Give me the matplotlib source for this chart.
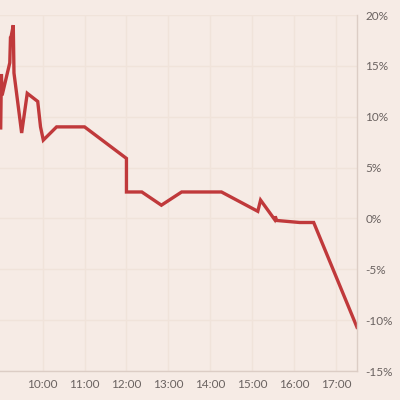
import matplotlib
matplotlib.use("Agg")
import matplotlib.pyplot as plt
import matplotlib.dates as mdates
import pandas as pd

# intraday change, %
times = ["09:00", "09:01", "09:02", "09:13", "09:14", "09:15", "09:18", "09:19",
         "09:30", "09:38", "09:53", "09:57", "10:01", "10:20", "11:00", "12:00",
         "12:00", "12:22", "12:50", "13:19", "14:16", "15:08", "15:12", "15:32",
         "15:33", "15:35", "16:08", "16:28", "17:30"]
change = [8.9, 14.2, 12.1, 15.3, 17.8, 17.9, 19.0, 14.3,
          8.4, 12.3, 11.5, 9.0, 7.7, 9.0, 9.0, 5.9,
          2.6, 2.6, 1.3, 2.6, 2.6, 0.7, 1.8, -0.1,
          0.2, -0.2, -0.4, -0.4, -10.7]

yticks = [-15, -10, -5, 0, 5, 10, 15, 20]
xticks = ["10:00", "11:00", "12:00", "13:00", "14:00", "15:00", "16:00", "17:00"]

bg = "#f6ebe5"
line_color = "#c0393b"
grid_color = "#f0e3da"
text_color = "#6a6260"

day = "2024-01-02 "
t = pd.to_datetime([day + s for s in times])

fig = plt.figure(figsize=(4, 4), dpi=100, facecolor=bg)
ax = fig.add_axes([0.0, 0.0725, 0.8925, 0.89])
ax.set_facecolor(bg)

ax.plot(t, change, color=line_color, lw=2.4, solid_joinstyle="miter")

ax.set_ylim(-15, 20)
ax.set_xlim(pd.Timestamp(day + "08:59"), pd.Timestamp(day + "17:30"))
ax.set_yticks(yticks)
ax.set_yticklabels(["%d%%" % v for v in yticks])
ax.set_xticks(pd.to_datetime([day + s for s in xticks]))
ax.xaxis.set_major_formatter(mdates.DateFormatter("%H:%M"))

ax.yaxis.tick_right()
ax.tick_params(axis="both", length=0, labelsize=8.5, colors=text_color, pad=6)
ax.tick_params(axis="y", pad=6)
ax.grid(True, color=grid_color, lw=1)
ax.set_axisbelow(True)

for side in ["top", "left"]:
    ax.spines[side].set_visible(False)
for side in ["right", "bottom"]:
    ax.spines[side].set_color("#dccdc5")
    ax.spines[side].set_linewidth(1)

for lab in ax.get_xticklabels() + ax.get_yticklabels():
    lab.set_family("Lato")

fig.savefig("out.png", dpi=100, facecolor=bg)
